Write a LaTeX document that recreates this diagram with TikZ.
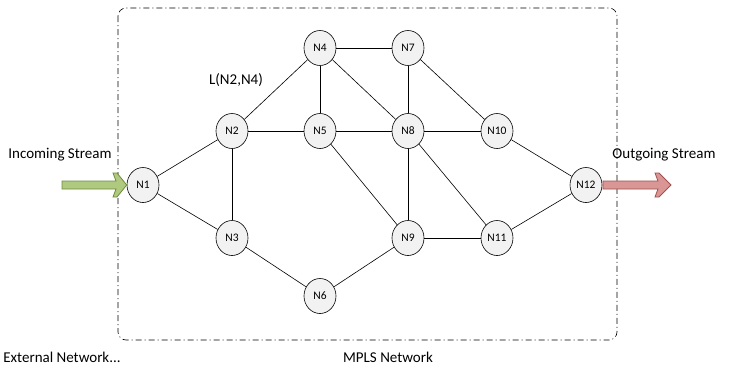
\documentclass[tikz,border=0pt]{standalone}
\usepackage{fontspec}
\setmainfont{Carlito}
\usetikzlibrary{shapes.geometric}
\definecolor{nodefill}{HTML}{F2F2F2}
\definecolor{gfill}{HTML}{AFC97F}
\definecolor{gdraw}{HTML}{6E8B3D}
\definecolor{rfill}{HTML}{D99694}
\definecolor{rdraw}{HTML}{A0504E}
\begin{document}
\begin{tikzpicture}[x=1pt,y=-1pt,
  netnode/.style={ellipse,draw=black,fill=nodefill,line width=0.6pt,minimum width=32pt,minimum height=35pt,inner sep=0pt,font=\fontsize{11.5}{13}\selectfont},
  link/.style={draw=black,line width=0.6pt},
  lbl/.style={font=\fontsize{15}{17}\selectfont,inner sep=0pt}]
\useasboundingbox (0,0) rectangle (734,370);
\draw[line width=0.6pt,dash pattern=on 6pt off 3pt on 1pt off 3pt,rounded corners=8pt] (118,8) rectangle (617,340);
\node[netnode] (N1) at (143,185) {N1};
\node[netnode] (N2) at (232,131) {N2};
\node[netnode] (N3) at (232,238) {N3};
\node[netnode] (N4) at (320,48) {N4};
\node[netnode] (N5) at (320,131) {N5};
\node[netnode] (N6) at (320,296) {N6};
\node[netnode] (N7) at (408,48) {N7};
\node[netnode] (N8) at (408,131) {N8};
\node[netnode] (N9) at (408,238) {N9};
\node[netnode] (N10) at (497,131) {N10};
\node[netnode] (N11) at (497,238) {N11};
\node[netnode] (N12) at (586,185) {N12};
\foreach \a/\b in {N1/N2,N1/N3,N2/N3,N2/N4,N2/N5,N4/N5,N4/N7,N4/N8,N7/N8,N7/N10,N5/N8,N5/N9,N8/N10,N8/N9,N8/N11,N9/N11,N3/N6,N6/N9,N10/N12,N11/N12}
  \draw[link] (\a) -- (\b);
\node[lbl] (l24) at (236,80) {L(N2,N4)};
\node[lbl] (in) at (60,155) {Incoming Stream};
\node[lbl] (out) at (664,155) {Outgoing Stream};
\node[lbl] (ext) at (62,357) {External Network...};
\node[lbl] (mpls) at (388,357) {MPLS Network};
\draw[draw=gdraw,fill=gfill,line width=0.8pt,line join=miter] (62,181) -- (116,181) -- (113,173) -- (117,173) -- (N1.west) -- (117,197) -- (113,197) -- (116,189) -- (62,189) -- cycle;
\draw[draw=rdraw,fill=rfill,line width=0.8pt,line join=miter] (603,181) -- (658,181) -- (655,173) -- (659,173) -- (671,185) -- (659,197) -- (655,197) -- (658,189) -- (603,189) -- cycle;
\end{tikzpicture}
\end{document}
